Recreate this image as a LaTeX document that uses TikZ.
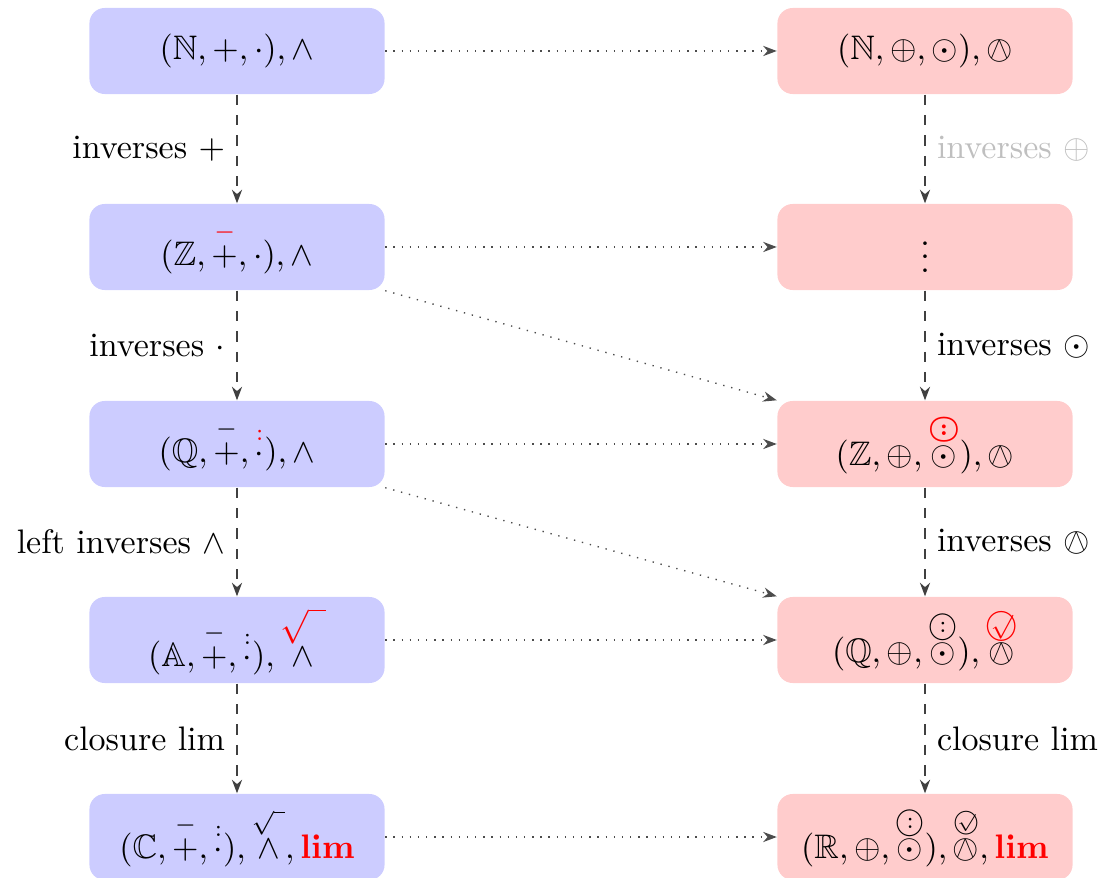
\documentclass[tikz,border=0pt]{standalone}
\usepackage{amsmath,amssymb,stmaryrd,graphicx}
\usetikzlibrary{arrows.meta}
\definecolor{lblue}{RGB}{204,204,255}
\definecolor{lred}{RGB}{255,204,204}
\newcommand{\circof}[2][0.85]{\mathord{\ooalign{\hfil$\vcenter{\hbox{\scalebox{#1}{$\bigcirc$}}}$\hfil\cr\hfil$\vcenter{\hbox{$#2$}}$\hfil\cr}}}
\newcommand{\circofb}[2][0.85]{\mathord{\ooalign{\hfil$\vcenter{\hbox{\scalebox{#1}{\boldmath$\bigcirc$}}}$\hfil\cr\hfil$\vcenter{\hbox{\boldmath$#2$}}$\hfil\cr}}}
\newcommand{\ocol}[1][0.85]{\circof[#1]{\scriptstyle :}}
\newcommand{\ocolb}[1][0.85]{\circofb[#1]{\scriptstyle :}}
\newcommand{\osq}[1][0.85]{\circof[#1]{\scriptstyle\surd}}
\newcommand{\osqs}[1][0.75]{\circof[#1]{\scriptscriptstyle\surd}}
\begin{document}
\begin{tikzpicture}[x=0.2941pt,y=-0.2941pt,
  lbox/.style={fill=lblue,rounded corners=4.5pt,minimum width=86.8pt,minimum height=25.3pt,inner sep=0pt},
  rbox/.style={fill=lred,rounded corners=4.5pt,minimum width=86.8pt,minimum height=25.3pt,inner sep=0pt},
  vstep/.style={draw=black!75,dashed,-{Stealth[length=4pt,width=3pt]}},
  hstep/.style={draw=black!70,dotted,-{Stealth[length=4pt,width=3pt]}}]
\useasboundingbox (0,0) rectangle (1104,878);
\node[lbox] (L1) at (237,51) {$(\mathbb{N},+,\cdot),\wedge$};
\node[lbox] (L2) at (237,247) {$(\mathbb{Z},\overset{\textcolor{red}{-}}{+},\cdot),\wedge$};
\node[lbox] (L3) at (237,444) {$(\mathbb{Q},\overset{-}{+},\overset{\textcolor{red}{:}}{\cdot}),\wedge$};
\node[lbox] (L4) at (237,640) {$(\mathbb{A},\overset{-}{+},\overset{:}{\cdot}),\overset{\textcolor{red}{\textstyle\sqrt{\ \,}}}{\wedge}$};
\node[lbox] (L5) at (237,837) {$(\mathbb{C},\overset{-}{+},\overset{:}{\cdot}),\overset{\sqrt{\ }}{\wedge},\textcolor{red}{\mathbf{lim}}$};
\node[rbox] (R1) at (925,51) {$(\mathbb{N},\oplus,\odot),\owedge$};
\node[rbox] (R2) at (925,247) {$\vdots$};
\node[rbox] (R3) at (925,444) {$(\mathbb{Z},\oplus,\overset{\textcolor{red}{\textstyle\ocolb[0.8]}}{\odot}),\owedge$};
\node[rbox] (R4) at (925,640) {$(\mathbb{Q},\oplus,\overset{\textstyle\ocol}{\odot}),\overset{\textcolor{red}{\textstyle\osq[0.95]}}{\owedge}$};
\node[rbox] (R5) at (925,837) {$(\mathbb{R},\oplus,\overset{\textstyle\ocol}{\odot}),\overset{\osqs}{\owedge},\textcolor{red}{\mathbf{lim}}$};
\draw[vstep] (L1) -- node[left,text=black] {inverses $+$} (L2);
\draw[vstep] (L2) -- node[left,text=black] {inverses $\cdot$} (L3);
\draw[vstep] (L3) -- node[left,text=black] {left inverses $\wedge$} (L4);
\draw[vstep] (L4) -- node[left,text=black] {closure lim} (L5);
\draw[vstep] (R1) -- node[right,text=black!25] {inverses $\oplus$} (R2);
\draw[vstep] (R2) -- node[right,text=black] {inverses $\odot$} (R3);
\draw[vstep] (R3) -- node[right,text=black] {inverses $\owedge$} (R4);
\draw[vstep] (R4) -- node[right,text=black] {closure lim} (R5);
\draw[hstep] (L1) -- (R1);
\draw[hstep] (L2) -- (R2);
\draw[hstep] (L3) -- (R3);
\draw[hstep] (L4) -- (R4);
\draw[hstep] (L5) -- (R5);
\draw[hstep] (L2.south east) -- (R3.north west);
\draw[hstep] (L3.south east) -- (R4.north west);
\end{tikzpicture}
\end{document}
